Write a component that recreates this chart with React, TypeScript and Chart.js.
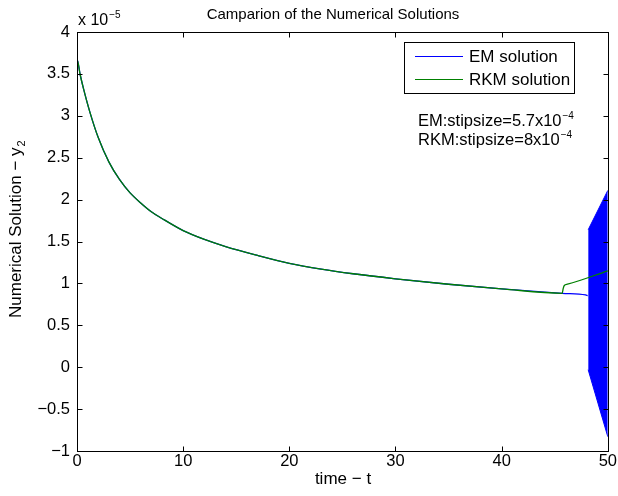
import React, { useEffect, useRef } from 'react';
import { Chart, registerables } from 'chart.js';

Chart.register(...registerables);

// Shared part of both numerical solutions (time, value in units of 1e-5)
const curveT = [0, 0.01, 0.3, 0.6, 1.2, 2, 3, 4, 5, 6, 7, 8, 10, 12, 14, 17, 20, 23, 26, 30, 35, 40, 45.7];
const curveY = [0, 3.67, 3.49, 3.33, 3.05, 2.74, 2.45, 2.24, 2.08, 1.96, 1.855, 1.775, 1.63, 1.525, 1.44, 1.335, 1.24, 1.17, 1.115, 1.055, 0.99, 0.935, 0.882];
// EM solution tail before blow-up
const emTailT = [47.9, 48.1];
const emTailY = [0.862, 0.855];
// EM oscillation band (envelope)
const emBandT = [48.15, 50];
const emBandHigh = [1.64, 2.11];
const emBandLow = [-0.03, -0.83];
// RKM solution tail
const rkmTailT = [45.8, 45.9, 46.2, 50];
const rkmTailY = [0.94, 0.975, 0.99, 1.15];

const xTicks = [0, 10, 20, 30, 40, 50];
const yMin = -1;
const yMax = 4;
const yStep = 0.5;

const FONT = '"Liberation Sans", Arial, Helvetica, sans-serif';

const toPts = (t: number[], y: number[]) => t.map((v, i) => ({ x: v, y: y[i] }));

function fmt(v: number) {
  return String(v).replace('-', '\u2212');
}

const overlay = {
  id: 'overlay',
  afterDraw(chart: any) {
    const { ctx, chartArea: a, scales } = chart;
    const xs = scales.x;
    const ys = scales.y;
    ctx.save();
    ctx.strokeStyle = '#000';
    ctx.lineWidth = 1;
    const L = Math.round(a.left) + 0.5;
    const T = Math.round(a.top) + 0.5;
    const R = Math.round(a.right) + 0.5;
    const B = Math.round(a.bottom) + 0.5;
    ctx.strokeRect(L, T, R - L, B - T);
    ctx.beginPath();
    xs.ticks.forEach((t: any) => {
      const px = Math.round(xs.getPixelForValue(t.value)) + 0.5;
      ctx.moveTo(px, B);
      ctx.lineTo(px, B - 5);
      ctx.moveTo(px, T);
      ctx.lineTo(px, T + 5);
    });
    ys.ticks.forEach((t: any) => {
      const py = Math.round(ys.getPixelForValue(t.value)) + 0.5;
      ctx.moveTo(L, py);
      ctx.lineTo(L + 5, py);
      ctx.moveTo(R, py);
      ctx.lineTo(R - 5, py);
    });
    ctx.stroke();

    ctx.fillStyle = '#000';
    // Title
    ctx.font = `15px ${FONT}`;
    ctx.textAlign = 'center';
    ctx.textBaseline = 'alphabetic';
    ctx.fillText('Camparion of the Numerical Solutions', 333, 19);

    // exponent
    ctx.textAlign = 'left';
    ctx.font = `16px ${FONT}`;
    ctx.fillText('x 10', 78, 25);
    let w = ctx.measureText('x 10').width;
    ctx.font = `10px ${FONT}`;
    ctx.fillText('\u22125', 78 + w + 1, 18);

    // x title
    ctx.font = `17px ${FONT}`;
    ctx.textAlign = 'center';
    ctx.fillText('time \u2212 t', 343, 484);

    // y title
    ctx.save();
    ctx.translate(21, 318);
    ctx.rotate(-Math.PI / 2);
    ctx.textAlign = 'left';
    ctx.textBaseline = 'alphabetic';
    ctx.font = `17px ${FONT}`;
    const ylab = 'Numerical Solution \u2212 y';
    ctx.fillText(ylab, 0, 0);
    w = ctx.measureText(ylab).width;
    ctx.font = `11px ${FONT}`;
    ctx.fillText('2', w + 1, 4);
    ctx.restore();

    // Legend
    ctx.fillStyle = '#fff';
    ctx.fillRect(404.5, 42.5, 170, 51);
    ctx.strokeStyle = '#000';
    ctx.strokeRect(404.5, 42.5, 170, 51);
    ctx.lineWidth = 1.2;
    ctx.strokeStyle = '#0000ff';
    ctx.beginPath();
    ctx.moveTo(415, 56.5);
    ctx.lineTo(463, 56.5);
    ctx.stroke();
    ctx.strokeStyle = '#008000';
    ctx.beginPath();
    ctx.moveTo(415, 79.5);
    ctx.lineTo(463, 79.5);
    ctx.stroke();
    ctx.fillStyle = '#000';
    ctx.font = `17px ${FONT}`;
    ctx.textAlign = 'left';
    ctx.textBaseline = 'middle';
    ctx.fillText('EM solution', 469, 57);
    ctx.fillText('RKM solution', 469, 80);

    // annotations
    ctx.textBaseline = 'alphabetic';
    const notes = [
      ['EM:stipsize=5.7x10', '\u22124', 126],
      ['RKM:stipsize=8x10', '\u22124', 145],
    ] as [string, string, number][];
    notes.forEach(([base, sup, by]) => {
      ctx.font = `16.5px ${FONT}`;
      ctx.fillText(base, 418, by);
      const bw = ctx.measureText(base).width;
      ctx.font = `10px ${FONT}`;
      ctx.fillText(sup, 418 + bw + 1, by - 7);
    });
    ctx.restore();
  },
};

export default function App() {
  const ref = useRef<HTMLCanvasElement>(null);
  useEffect(() => {
    document.body.style.margin = '0';
    const canvas = ref.current;
    if (!canvas) return;
    const rkmData = [...toPts(curveT, curveY), ...toPts(rkmTailT, rkmTailY)];
    const emData = [...toPts(curveT, curveY), ...toPts(emTailT, emTailY)];
    const chart = new Chart(canvas, {
      type: 'line',
      data: {
        datasets: [
          {
            label: 'RKM solution',
            data: rkmData,
            borderColor: '#008000',
            borderWidth: 1.3,
            pointRadius: 0,
            cubicInterpolationMode: 'monotone',
            fill: false,
            order: 0,
          },
          {
            label: 'EM solution',
            data: emData,
            borderColor: '#0000ff',
            borderWidth: 1.3,
            pointRadius: 0,
            cubicInterpolationMode: 'monotone',
            fill: false,
            order: 1,
          },
          {
            label: 'EM band high',
            data: toPts(emBandT, emBandHigh),
            borderColor: '#0000ff',
            backgroundColor: '#0000ff',
            borderWidth: 1,
            pointRadius: 0,
            fill: false,
            order: 2,
          },
          {
            label: 'EM band low',
            data: toPts(emBandT, emBandLow),
            borderColor: '#0000ff',
            backgroundColor: '#0000ff',
            borderWidth: 1,
            pointRadius: 0,
            fill: '-1',
            order: 2,
          },
        ],
      },
      options: {
        animation: false,
        responsive: false,
        maintainAspectRatio: false,
        layout: { padding: { left: 0, top: 32, right: 9, bottom: 0 } },
        plugins: {
          legend: { display: false },
          tooltip: { enabled: false },
          title: { display: false },
        },
        scales: {
          x: {
            type: 'linear',
            min: 0,
            max: 50,
            afterBuildTicks: (s: any) => {
              s.ticks = xTicks.map((v) => ({ value: v }));
            },
            afterFit: (s: any) => {
              s.height = 45;
            },
            grid: { display: false, drawTicks: false },
            border: { display: false },
            ticks: {
              autoSkip: false,
              maxRotation: 0,
              padding: 1,
              color: '#000',
              font: { family: FONT, size: 16.5 },
              callback: (v: any) => fmt(Number(v)),
            },
          },
          y: {
            type: 'linear',
            min: yMin,
            max: yMax,
            afterFit: (s: any) => {
              s.width = 77;
            },
            grid: { display: false, drawTicks: false },
            border: { display: false },
            ticks: {
              stepSize: yStep,
              autoSkip: false,
              padding: 7,
              color: '#000',
              font: { family: FONT, size: 16.5 },
              callback: (v: any) => fmt(Number(v)),
            },
          },
        },
      },
      plugins: [overlay],
    } as any);
    return () => chart.destroy();
  }, []);
  return (
    <div style={{ width: 618, height: 496 }}>
      <canvas ref={ref} width={618} height={496} style={{ display: 'block' }} />
    </div>
  );
}
